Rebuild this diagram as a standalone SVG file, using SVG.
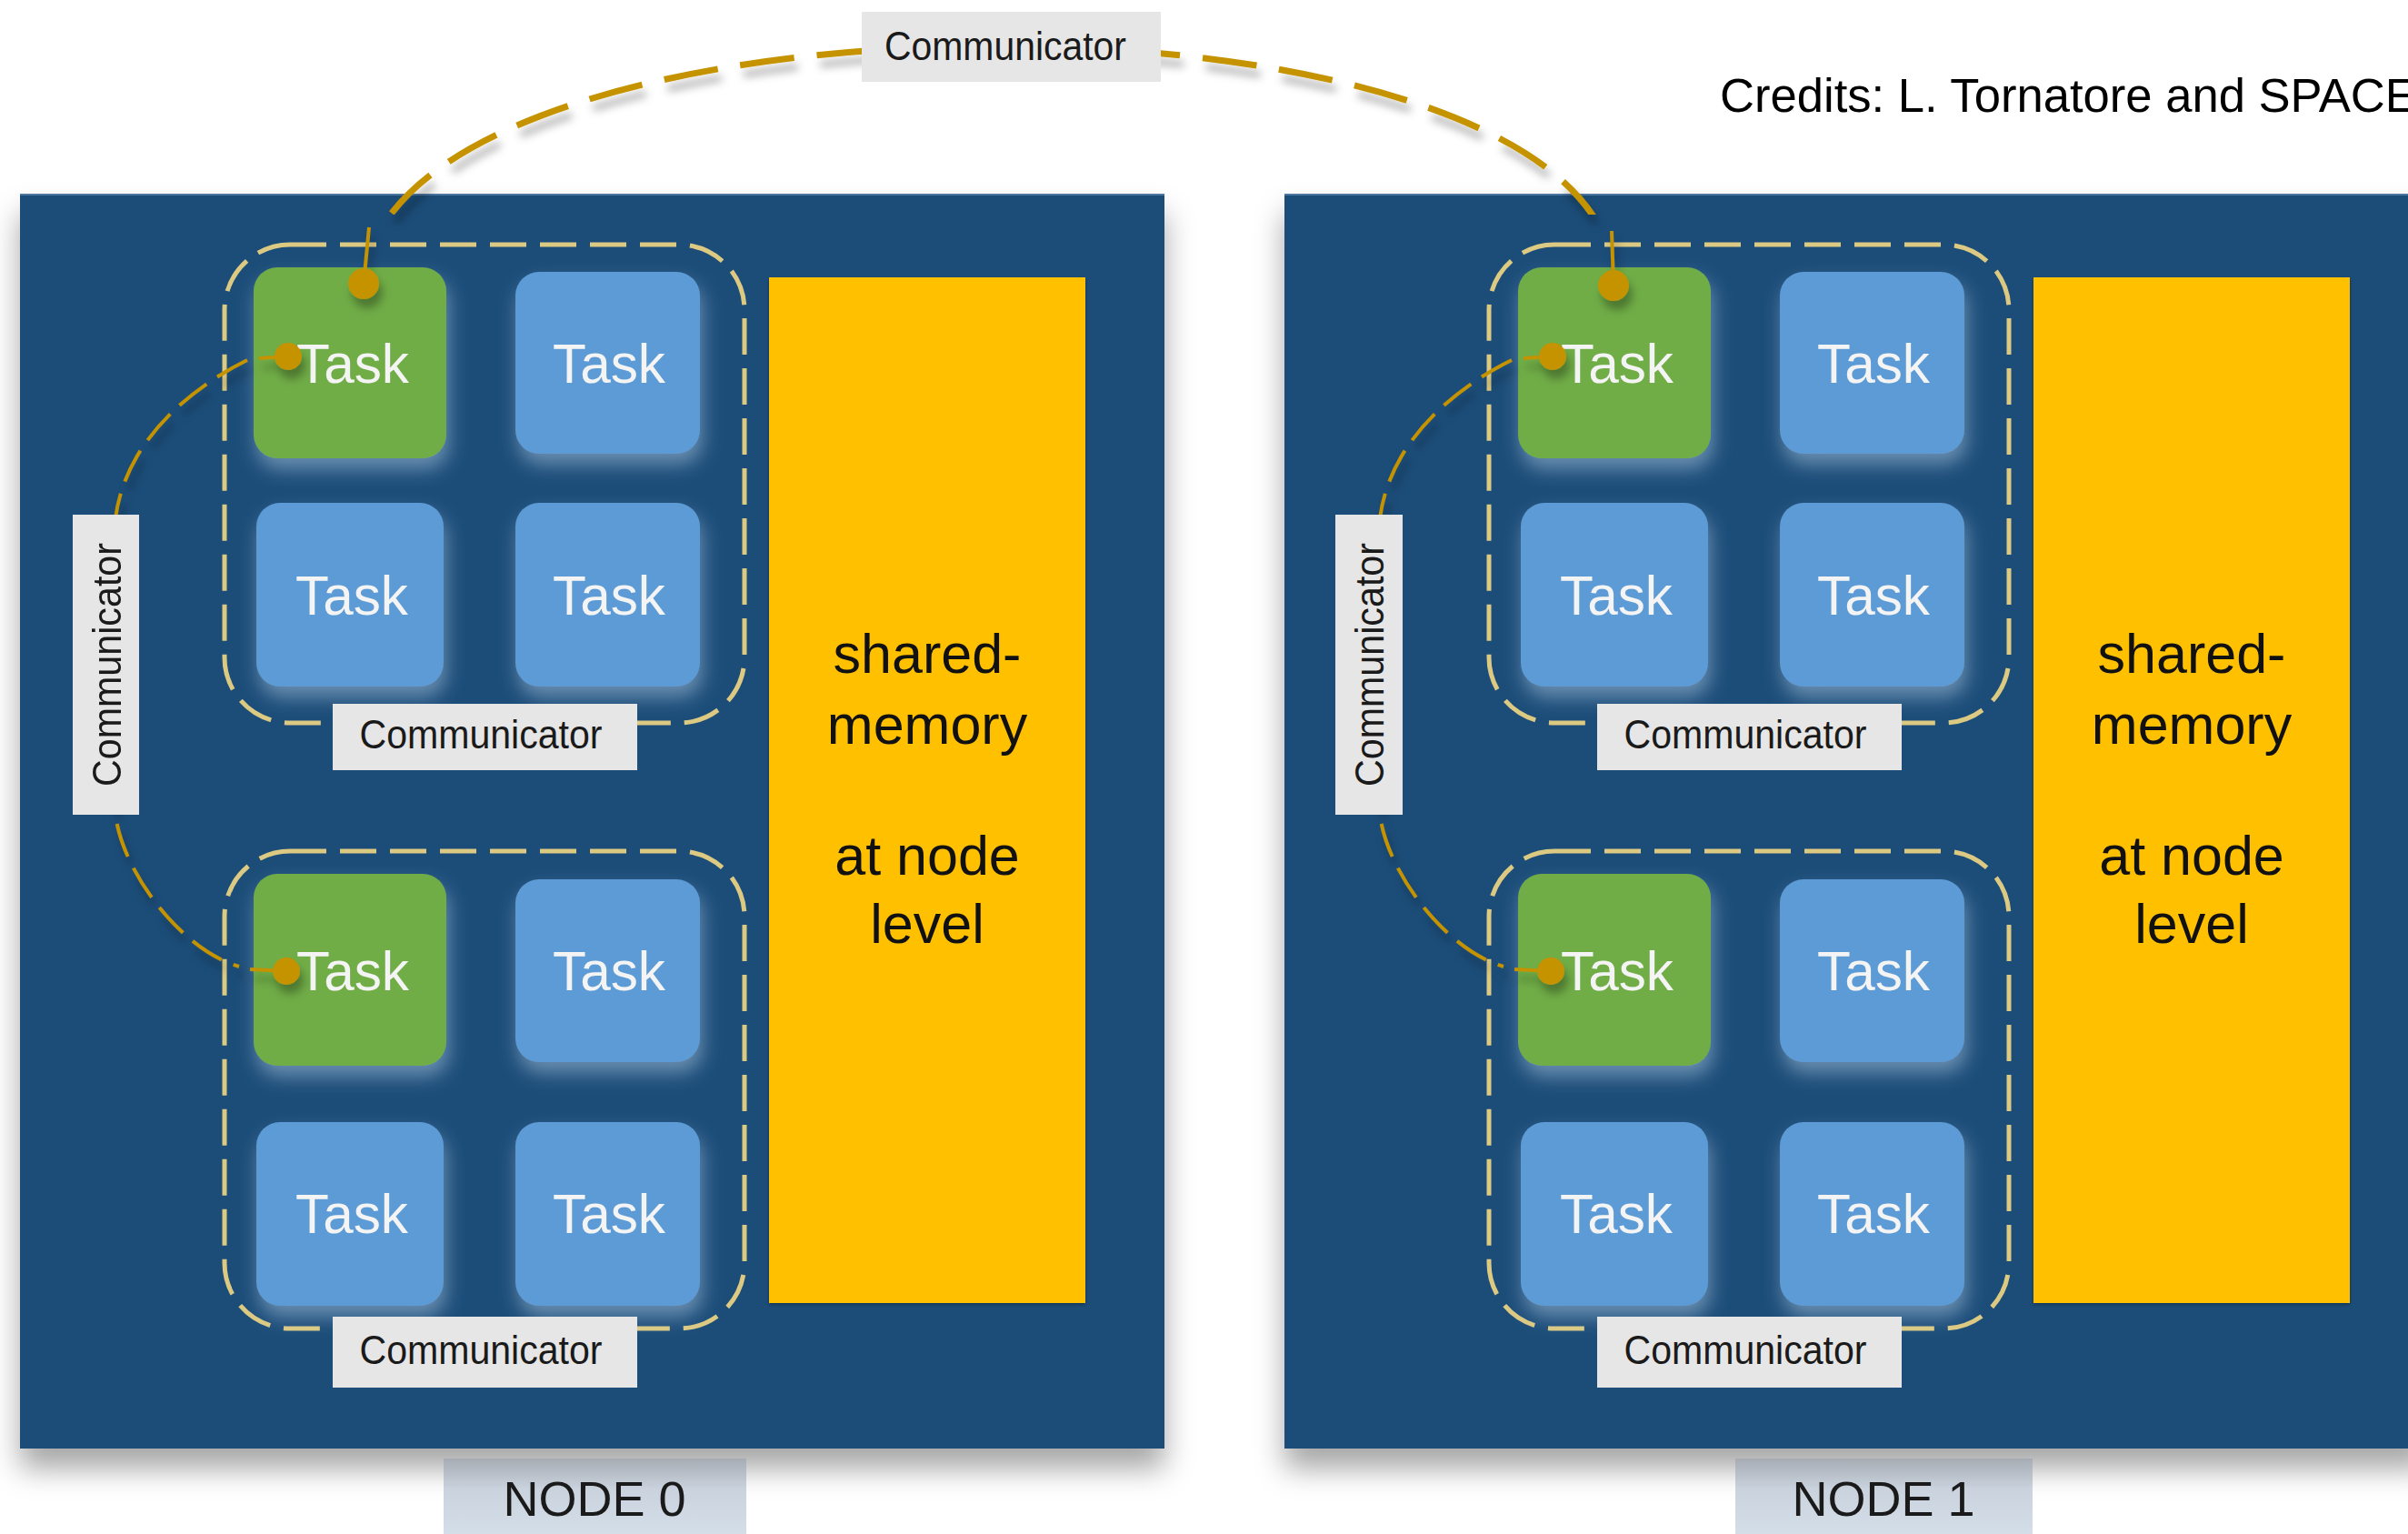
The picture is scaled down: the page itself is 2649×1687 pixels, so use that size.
<svg xmlns="http://www.w3.org/2000/svg" width="2649" height="1687" viewBox="0 0 2649 1687">
<defs>
<style>
.nodebox{fill:#1f4e79}
.mem{fill:#ffc000}
.grp{fill:none;stroke:#dcc982;stroke-width:5;stroke-dasharray:40 15}
.blue{fill:#5b9bd5}
.green{fill:#70ad47}
.tt{font-family:"Liberation Sans",Arial,sans-serif;font-size:62px;fill:#f4f4f4;text-anchor:middle}
.lab{fill:#e6e6e6}
.lt{font-family:"Liberation Sans",Arial,sans-serif;font-size:44px;fill:#1a1a1a;text-anchor:middle}
.mt{font-family:"Liberation Sans",Arial,sans-serif;font-size:61px;fill:#111;text-anchor:middle}
.nt{font-family:"Liberation Sans",Arial,sans-serif;font-size:54px;fill:#1a1a1a;text-anchor:middle}
.arc{fill:none;stroke:#c69300;stroke-width:7;stroke-dasharray:60 25}
.sarc{fill:none;stroke:#c69300;stroke-width:4;stroke-dasharray:38 14}
.stub{fill:none;stroke:#c69300;stroke-width:4}
.dot{fill:#c69300}
</style>
<filter id="nshadow" x="-5%" y="-5%" width="110%" height="115%">
<feDropShadow dx="0" dy="22" stdDeviation="16" flood-color="#000" flood-opacity="0.35"/>
</filter>
<filter id="glow" x="-25%" y="-25%" width="150%" height="160%">
<feGaussianBlur in="SourceAlpha" stdDeviation="10"/>
<feOffset dx="3" dy="12" result="b"/>
<feFlood flood-color="#b4cde6" flood-opacity="0.5"/>
<feComposite in2="b" operator="in"/>
<feMerge><feMergeNode/><feMergeNode in="SourceGraphic"/></feMerge>
</filter>
<filter id="cshadow" x="-10%" y="-10%" width="120%" height="130%">
<feDropShadow dx="4" dy="10" stdDeviation="5" flood-color="#000" flood-opacity="0.3"/>
</filter>
<filter id="mshadow" x="-5%" y="-5%" width="110%" height="110%">
<feDropShadow dx="0" dy="2" stdDeviation="2" flood-color="#000" flood-opacity="0.3"/>
</filter>
<linearGradient id="ng" x1="0" y1="0" x2="0" y2="1">
<stop offset="0" stop-color="#a7acb4"/>
<stop offset="0.4" stop-color="#c9d2dd"/>
<stop offset="1" stop-color="#d4dee9"/>
</linearGradient>
<clipPath id="above"><rect x="0" y="0" width="2649" height="236"/></clipPath>
</defs>
<rect x="0" y="0" width="2649" height="1687" fill="#ffffff"/>

<text id="credits" x="1892" y="123" font-family="Liberation Sans, Arial, sans-serif" font-size="52.6" fill="#000">Credits: L. Tornatore and SPACE</text>

<g id="node0">
<rect class="nodebox" x="22" y="213" width="1259" height="1380" filter="url(#nshadow)"/>
<line x1="22" y1="214" x2="1281" y2="214" stroke="#4d76a0" stroke-width="2"/>
<g id="node0-memory">
<rect class="mem" x="846" y="305" width="348" height="1128" filter="url(#mshadow)"/>
<text class="mt" x="1020" y="740">shared-</text>
<text class="mt" x="1020" y="818">memory</text>
<text class="mt" x="1020" y="962">at node</text>
<text class="mt" x="1020" y="1037">level</text>
</g>
<g id="node0-group-a">
<rect class="grp" x="247" y="269" width="572" height="526" rx="72"/>
<g id="n0-t1"><rect class="green" x="279" y="294" width="212" height="210" rx="26" filter="url(#glow)"/><text class="tt" x="388" y="421" textLength="124" lengthAdjust="spacingAndGlyphs">Task</text></g>
<g id="n0-t2"><rect class="blue" x="567" y="299" width="203" height="200" rx="26" filter="url(#glow)"/><text class="tt" x="670" y="421" textLength="124" lengthAdjust="spacingAndGlyphs">Task</text></g>
<g id="n0-t3"><rect class="blue" x="282" y="553" width="206" height="202" rx="26" filter="url(#glow)"/><text class="tt" x="387" y="676" textLength="124" lengthAdjust="spacingAndGlyphs">Task</text></g>
<g id="n0-t4"><rect class="blue" x="567" y="553" width="203" height="202" rx="26" filter="url(#glow)"/><text class="tt" x="670" y="676" textLength="124" lengthAdjust="spacingAndGlyphs">Task</text></g>
<g id="n0-ca"><rect class="lab" x="366" y="774" width="335" height="73"/><text class="lt" x="529" y="823" textLength="267" lengthAdjust="spacingAndGlyphs">Communicator</text></g>
</g>
<g id="node0-group-b">
<rect class="grp" x="247" y="936" width="572" height="525" rx="72"/>
<g id="n0-t5"><rect class="green" x="279" y="961" width="212" height="211" rx="26" filter="url(#glow)"/><text class="tt" x="388" y="1089" textLength="124" lengthAdjust="spacingAndGlyphs">Task</text></g>
<g id="n0-t6"><rect class="blue" x="567" y="967" width="203" height="201" rx="26" filter="url(#glow)"/><text class="tt" x="670" y="1089" textLength="124" lengthAdjust="spacingAndGlyphs">Task</text></g>
<g id="n0-t7"><rect class="blue" x="282" y="1234" width="206" height="202" rx="26" filter="url(#glow)"/><text class="tt" x="387" y="1356" textLength="124" lengthAdjust="spacingAndGlyphs">Task</text></g>
<g id="n0-t8"><rect class="blue" x="567" y="1234" width="203" height="202" rx="26" filter="url(#glow)"/><text class="tt" x="670" y="1356" textLength="124" lengthAdjust="spacingAndGlyphs">Task</text></g>
<g id="n0-cb"><rect class="lab" x="366" y="1448" width="335" height="78"/><text class="lt" x="529" y="1500" textLength="267" lengthAdjust="spacingAndGlyphs">Communicator</text></g>
</g>
<g id="node0-label"><rect x="488" y="1604" width="333" height="83" fill="url(#ng)"/><text class="nt" x="654" y="1667">NODE 0</text></g>
</g>

<g id="node1" transform="translate(1391,0)">
<rect class="nodebox" x="22" y="213" width="1259" height="1380" filter="url(#nshadow)"/>
<line x1="22" y1="214" x2="1281" y2="214" stroke="#4d76a0" stroke-width="2"/>
<g id="node1-memory">
<rect class="mem" x="846" y="305" width="348" height="1128" filter="url(#mshadow)"/>
<text class="mt" x="1020" y="740">shared-</text>
<text class="mt" x="1020" y="818">memory</text>
<text class="mt" x="1020" y="962">at node</text>
<text class="mt" x="1020" y="1037">level</text>
</g>
<g id="node1-group-a">
<rect class="grp" x="247" y="269" width="572" height="526" rx="72"/>
<g id="n1-t1"><rect class="green" x="279" y="294" width="212" height="210" rx="26" filter="url(#glow)"/><text class="tt" x="388" y="421" textLength="124" lengthAdjust="spacingAndGlyphs">Task</text></g>
<g id="n1-t2"><rect class="blue" x="567" y="299" width="203" height="200" rx="26" filter="url(#glow)"/><text class="tt" x="670" y="421" textLength="124" lengthAdjust="spacingAndGlyphs">Task</text></g>
<g id="n1-t3"><rect class="blue" x="282" y="553" width="206" height="202" rx="26" filter="url(#glow)"/><text class="tt" x="387" y="676" textLength="124" lengthAdjust="spacingAndGlyphs">Task</text></g>
<g id="n1-t4"><rect class="blue" x="567" y="553" width="203" height="202" rx="26" filter="url(#glow)"/><text class="tt" x="670" y="676" textLength="124" lengthAdjust="spacingAndGlyphs">Task</text></g>
<g id="n1-ca"><rect class="lab" x="366" y="774" width="335" height="73"/><text class="lt" x="529" y="823" textLength="267" lengthAdjust="spacingAndGlyphs">Communicator</text></g>
</g>
<g id="node1-group-b">
<rect class="grp" x="247" y="936" width="572" height="525" rx="72"/>
<g id="n1-t5"><rect class="green" x="279" y="961" width="212" height="211" rx="26" filter="url(#glow)"/><text class="tt" x="388" y="1089" textLength="124" lengthAdjust="spacingAndGlyphs">Task</text></g>
<g id="n1-t6"><rect class="blue" x="567" y="967" width="203" height="201" rx="26" filter="url(#glow)"/><text class="tt" x="670" y="1089" textLength="124" lengthAdjust="spacingAndGlyphs">Task</text></g>
<g id="n1-t7"><rect class="blue" x="282" y="1234" width="206" height="202" rx="26" filter="url(#glow)"/><text class="tt" x="387" y="1356" textLength="124" lengthAdjust="spacingAndGlyphs">Task</text></g>
<g id="n1-t8"><rect class="blue" x="567" y="1234" width="203" height="202" rx="26" filter="url(#glow)"/><text class="tt" x="670" y="1356" textLength="124" lengthAdjust="spacingAndGlyphs">Task</text></g>
<g id="n1-cb"><rect class="lab" x="366" y="1448" width="335" height="78"/><text class="lt" x="529" y="1500" textLength="267" lengthAdjust="spacingAndGlyphs">Communicator</text></g>
</g>
<g id="node1-label"><rect x="518" y="1604" width="327" height="83" fill="url(#ng)"/><text class="nt" x="681" y="1667">NODE 1</text></g>
</g>

<g id="connectors" filter="url(#cshadow)">
<path class="arc" d="M399,312 C430,-37 1778,-37 1776,314" clip-path="url(#above)"/>
<path class="stub" d="M400,312 L406,250"/>
<path class="stub" d="M1775,314 L1773,254"/>
<circle class="dot" cx="400" cy="312" r="17"/>
<circle class="dot" cx="1775" cy="314" r="17"/>
<path class="sarc" d="M272,396 C235,414 140,470 127,570 L127,896 C135,960 200,1045 263,1063"/>
<path class="stub" d="M285,394 L317,392"/>
<path class="stub" d="M275,1066 L315,1068"/>
<circle class="dot" cx="317" cy="392" r="15"/>
<circle class="dot" cx="315" cy="1068" r="15"/>
<path class="sarc" d="M1663,396 C1626,414 1531,470 1518,570 L1518,896 C1526,960 1591,1045 1654,1063"/>
<path class="stub" d="M1676,394 L1708,392"/>
<path class="stub" d="M1666,1066 L1706,1068"/>
<circle class="dot" cx="1708" cy="392" r="15"/>
<circle class="dot" cx="1706" cy="1068" r="15"/>
</g>

<g id="comm-labels">
<g id="comm-top"><rect class="lab" x="948" y="13" width="329" height="77"/><text class="lt" x="1106" y="66" textLength="266" lengthAdjust="spacingAndGlyphs">Communicator</text></g>
<g id="comm-side0"><rect class="lab" x="80" y="566" width="73" height="330"/><text class="lt" transform="translate(133,731) rotate(-90)" textLength="268" lengthAdjust="spacingAndGlyphs">Communicator</text></g>
<g id="comm-side1"><rect class="lab" x="1469" y="566" width="74" height="330"/><text class="lt" transform="translate(1522,731) rotate(-90)" textLength="268" lengthAdjust="spacingAndGlyphs">Communicator</text></g>
</g>
</svg>
